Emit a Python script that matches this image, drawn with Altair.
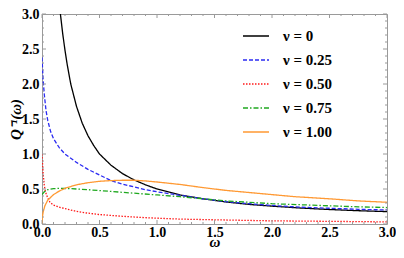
import altair as alt
import pandas as pd

# ---------------- data ----------------
nu_labels = ["ν = 0", "ν = 0.25", "ν = 0.50", "ν = 0.75", "ν = 1.00"]

w_nu0 = [0.15, 0.16, 0.18, 0.2, 0.22, 0.25, 0.3, 0.35, 0.4, 0.45, 0.5, 0.6, 0.7, 0.8, 0.9,
         1.0, 1.2, 1.4, 1.6, 1.8, 2.0, 2.25, 2.5, 2.75, 3.0]
q_nu0 = [3.3, 3.0, 2.72, 2.48, 2.27, 2.0, 1.68, 1.44, 1.26, 1.12, 1.0, 0.84, 0.72, 0.63, 0.56,
         0.5, 0.415, 0.36, 0.315, 0.28, 0.255, 0.228, 0.207, 0.19, 0.177]

w_nu25 = [0.0, 0.01, 0.02, 0.035, 0.05, 0.075, 0.1, 0.15, 0.2, 0.3, 0.4, 0.5, 0.6, 0.7, 0.8,
          0.9, 1.0, 1.2, 1.4, 1.6, 1.8, 2.0, 2.25, 2.5, 2.75, 3.0]
q_nu25 = [2.38, 2.05, 1.85, 1.62, 1.48, 1.32, 1.22, 1.09, 1.0, 0.88, 0.78, 0.7, 0.62, 0.57, 0.53,
          0.49, 0.46, 0.41, 0.36, 0.32, 0.29, 0.265, 0.24, 0.225, 0.21, 0.2]

w_nu50 = [0.0, 0.005, 0.01, 0.02, 0.03, 0.05, 0.07, 0.1, 0.15, 0.2, 0.3, 0.4, 0.5, 0.7, 0.9,
          1.2, 1.5, 2.0, 2.5, 3.0]
q_nu50 = [1.0, 0.85, 0.72, 0.55, 0.46, 0.37, 0.31, 0.27, 0.24, 0.22, 0.18, 0.155, 0.135, 0.11, 0.09,
          0.07, 0.06, 0.045, 0.038, 0.03]

w_nu75 = [0.0, 0.02, 0.05, 0.1, 0.15, 0.25, 0.4, 0.6, 0.8, 1.0, 1.2, 1.4, 1.6, 1.8, 2.0,
          2.25, 2.5, 2.75, 3.0]
q_nu75 = [0.42, 0.46, 0.49, 0.505, 0.51, 0.505, 0.49, 0.465, 0.44, 0.415, 0.39, 0.36, 0.33, 0.31, 0.29,
          0.275, 0.26, 0.245, 0.235]

w_nu100 = [0.0, 0.005, 0.01, 0.025, 0.05, 0.1, 0.15, 0.2, 0.3, 0.4, 0.5, 0.6, 0.7, 0.8, 0.9,
           1.0, 1.2, 1.4, 1.6, 1.8, 2.0, 2.2, 2.5, 2.75, 3.0]
q_nu100 = [0.0, 0.12, 0.17, 0.26, 0.34, 0.42, 0.47, 0.51, 0.56, 0.59, 0.61, 0.62, 0.625, 0.625, 0.615,
           0.6, 0.565, 0.52, 0.48, 0.45, 0.42, 0.39, 0.36, 0.33, 0.31]

x_major = [0.0, 0.5, 1.0, 1.5, 2.0, 2.5, 3.0]
y_major = [0.0, 0.5, 1.0, 1.5, 2.0, 2.5, 3.0]
x_minor = [round(i * 0.1, 1) for i in range(31) if i % 5 != 0]
y_minor = [round(i * 0.1, 1) for i in range(31) if i % 5 != 0]

# ---------------- styling ----------------
colors = ["#000000", "#2b2bf2", "#ff1a1a", "#1fa81f", "#ff9933"]
dashes = [[1, 0], [4, 2], [1.5, 1.5], [5, 2, 1.5, 2], [1, 0]]
frame_gray = "#9a9a9a"
W, H = 345, 210
FONT = "Liberation Serif"

series = [(w_nu0, q_nu0), (w_nu25, q_nu25), (w_nu50, q_nu50), (w_nu75, q_nu75), (w_nu100, q_nu100)]
rows = []
for lab, (ws, qs) in zip(nu_labels, series):
    for w, q in zip(ws, qs):
        rows.append({"w": w, "q": q, "nu": lab})
df = pd.DataFrame(rows)

xs = alt.Scale(domain=[0, 3], nice=False, zero=False)
ys = alt.Scale(domain=[0, 3], nice=False, zero=False)

x_axis = alt.Axis(values=x_major, format=".1f", ticks=False, domain=False, grid=False,
                  labelFont=FONT, labelFontWeight="bold", labelFontSize=14, labelColor="black",
                  labelPadding=1, labelOverlap=False, labelFlush=False, labelBound=False,
                  title="ω", titleFont=FONT, titleFontStyle="italic",
                  titleFontWeight="bold", titleFontSize=15, titleBaseline="alphabetic",
                  titleY=22, titleX=W / 2, titleAlign="center")
y_axis = alt.Axis(values=y_major, format=".1f", ticks=False, domain=False, grid=False,
                  labelFont=FONT, labelFontWeight="bold", labelFontSize=14, labelColor="black",
                  labelPadding=3, labelOverlap=False, labelFlush=False, labelBound=False,
                  title="Q⁻¹(ω)", titleFont=FONT, titleFontStyle="italic",
                  titleFontWeight="bold", titleFontSize=15, titleAngle=270,
                  titleBaseline="top", titleAlign="center", titleX=-34, titleY=H / 2)

lines = alt.Chart(df).mark_line(clip=True, strokeWidth=1.3).encode(
    x=alt.X("w:Q", scale=xs, axis=x_axis),
    y=alt.Y("q:Q", scale=ys, axis=y_axis),
    color=alt.Color("nu:N", scale=alt.Scale(domain=nu_labels, range=colors),
                    legend=alt.Legend(title=None, orient="none", legendX=200, legendY=8,
                                      symbolType="stroke", symbolSize=676, symbolStrokeWidth=1.4,
                                      labelFont=FONT, labelFontWeight="bold", labelFontSize=15,
                                      labelColor="black", rowPadding=2, labelOffset=13)),
    strokeDash=alt.StrokeDash("nu:N", scale=alt.Scale(domain=nu_labels, range=dashes), legend=None),
    order=alt.Order("w:Q"),
    detail="nu:N",
)

def xticks(vals, length, top):
    d = pd.DataFrame({"t": vals})
    y1 = 0 if top else H
    y2 = length if top else H - length
    return alt.Chart(d).mark_rule(color=frame_gray, strokeWidth=1).encode(
        x=alt.X("t:Q", scale=xs, axis=x_axis), y=alt.value(y1), y2=alt.value(y2))

def yticks(vals, length, right):
    d = pd.DataFrame({"t": vals})
    x1 = W if right else 0
    x2 = W - length if right else length
    return alt.Chart(d).mark_rule(color=frame_gray, strokeWidth=1).encode(
        y=alt.Y("t:Q", scale=ys, axis=y_axis), x=alt.value(x1), x2=alt.value(x2))

tick_layers = [
    xticks(x_major, 4, False), xticks(x_minor, 2, False),
    xticks(x_major, 4, True), xticks(x_minor, 2, True),
    yticks(y_major, 4, False), yticks(y_minor, 2, False),
    yticks(y_major, 4, True), yticks(y_minor, 2, True),
]

chart = alt.layer(lines, *tick_layers).properties(
    width=W, height=H,
    autosize=alt.AutoSizeParams(type="none"),
    padding={"left": 34, "top": 6, "right": 9, "bottom": 26},
).configure_view(stroke=frame_gray, strokeWidth=1)

chart.save("out.html", embed_options={"renderer": "svg", "actions": False})
